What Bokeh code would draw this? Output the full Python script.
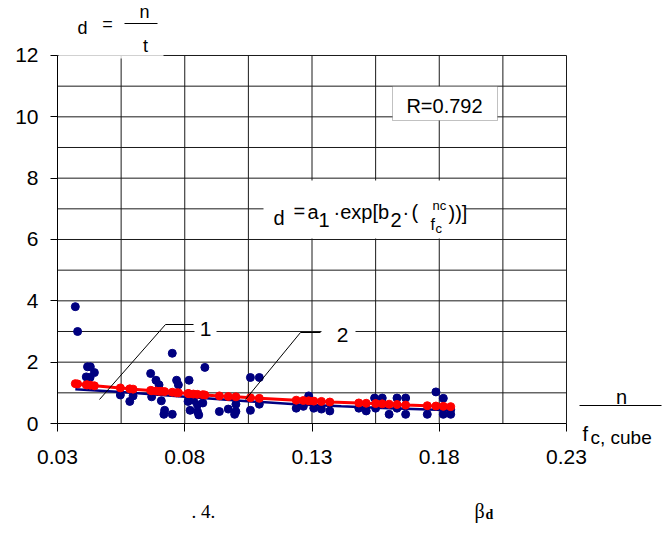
from bokeh.plotting import figure
from bokeh.models import FixedTicker, Label, BoxAnnotation
from bokeh.embed import file_html
from bokeh.resources import INLINE

# ---------------- data ----------------
blue_x = [0.0370, 0.0379, 0.0418, 0.0429, 0.0445, 0.0413, 0.0428, 0.0547, 0.0584, 0.0597,
          0.0666, 0.0687, 0.0699, 0.0670, 0.0708, 0.0721, 0.0751, 0.0718, 0.0751, 0.0768,
          0.0775, 0.0817, 0.0813, 0.0821, 0.0834, 0.0850, 0.0850, 0.0871, 0.0879, 0.0855,
          0.0936, 0.0971, 0.1001, 0.1001, 0.0996, 0.1058, 0.1093, 0.1058, 0.1093, 0.1238,
          0.1266, 0.1287, 0.1307, 0.1337, 0.1370, 0.1484, 0.1513, 0.1546, 0.1576, 0.1550,
          0.1603, 0.1634, 0.1668, 0.1634, 0.1668, 0.1753, 0.1787, 0.1816, 0.1816, 0.1845,
          0.1816, 0.1845]
blue_y = [3.81, 3.00, 1.85, 1.85, 1.66, 1.52, 1.50, 0.93, 0.72, 0.90,
          1.63, 1.41, 1.26, 0.87, 0.74, 0.43, 0.30, 0.30, 2.29, 1.41,
          1.26, 1.41, 0.72, 0.43, 0.76, 0.39, 0.61, 0.67, 1.83, 0.28,
          0.39, 0.47, 0.39, 0.63, 0.30, 1.50, 1.50, 0.43, 0.63, 0.50,
          0.56, 0.90, 0.50, 0.47, 0.41, 0.50, 0.41, 0.83, 0.83, 0.50,
          0.30, 0.83, 0.83, 0.50, 0.30, 0.30, 1.03, 0.82, 0.30, 0.30,
          0.50, 0.45]

red_x = [0.0370, 0.0379, 0.0413, 0.0418, 0.0429, 0.0445, 0.0547, 0.0584, 0.0597, 0.0666,
         0.0670, 0.0687, 0.0699, 0.0708, 0.0721, 0.0751, 0.0768, 0.0775, 0.0813, 0.0817,
         0.0834, 0.0850, 0.0871, 0.0879, 0.0936, 0.0971, 0.1001, 0.1058, 0.1093, 0.1238,
         0.1266, 0.1287, 0.1307, 0.1337, 0.1370, 0.1484, 0.1513, 0.1550, 0.1576, 0.1603,
         0.1634, 0.1668, 0.1753, 0.1787, 0.1816, 0.1845]
red_y = [1.30, 1.29, 1.26, 1.26, 1.25, 1.23, 1.16, 1.13, 1.12, 1.08,
         1.07, 1.06, 1.05, 1.05, 1.04, 1.02, 1.00, 1.00, 0.98, 0.97,
         0.96, 0.95, 0.94, 0.93, 0.90, 0.88, 0.87, 0.84, 0.82, 0.76,
         0.75, 0.74, 0.73, 0.72, 0.70, 0.67, 0.66, 0.65, 0.64, 0.63,
         0.62, 0.60, 0.58, 0.57, 0.56, 0.55]

fit2_x = [0.037, 0.055, 0.080, 0.106, 0.125, 0.1415, 0.160, 0.185]
fit2_y = [1.12, 1.03, 0.87, 0.72, 0.62, 0.56, 0.50, 0.43]

x_ticks = [0.03, 0.08, 0.13, 0.18, 0.23]
x_tick_labels = ["0.03", "0.08", "0.13", "0.18", "0.23"]
x_grid = [0.055, 0.08, 0.105, 0.13, 0.155, 0.18, 0.205, 0.23]
y_ticks = [0, 2, 4, 6, 8, 10, 12]
y_grid = [1, 2, 3, 4, 5, 6, 7, 8, 9, 10, 11, 12]
X_MIN, X_MAX, Y_MIN, Y_MAX = 0.03, 0.23, 0, 12

# ---------------- layout (pixel -> data, for placing annotations) ----------------
W, H = 672, 533
XP0, XP1 = 57.0, 566.0      # pixel columns of x = 0.03 and x = 0.23
YP0, YPU = 423.0, 30.667    # pixel row of y = 0, pixels per y unit


def X(px):
    return X_MIN + (px - XP0) * (X_MAX - X_MIN) / (XP1 - XP0)


def Y(py):
    return (YP0 - py) / YPU


SANS = "Liberation Sans"
SERIF = "Liberation Serif"

p = figure(width=W, height=H, x_range=(X(0), X(W)), y_range=(Y(H), Y(0)),
           output_backend="svg", toolbar_location=None, min_border=0)
p.title.visible = False
p.background_fill_color = "white"
p.border_fill_color = "white"
p.outline_line_color = None
p.xgrid.visible = False
p.ygrid.visible = False

# axes placed at the chart box edges
p.xaxis.fixed_location = Y_MIN
p.yaxis.fixed_location = X_MIN
p.xaxis.bounds = (X_MIN, X_MAX)
p.yaxis.bounds = (Y_MIN, Y_MAX)
p.xaxis.ticker = FixedTicker(ticks=x_ticks)
p.xaxis.major_label_overrides = {t: l for t, l in zip(x_ticks, x_tick_labels)}
p.yaxis.ticker = FixedTicker(ticks=y_ticks)
for ax in (p.xaxis[0], p.yaxis[0]):
    ax.axis_line_color = "black"
    ax.major_tick_line_color = "black"
    ax.minor_tick_line_color = None
    ax.major_tick_in = 0
    ax.major_label_text_font = SANS
    ax.major_label_text_font_size = "21px"
    ax.major_label_text_color = "black"
p.xaxis.major_tick_out = 8
p.xaxis.major_label_standoff = 18
p.yaxis.major_tick_out = 7
p.yaxis.major_label_standoff = 12

# grid lines (incl. top and right border of the box)
p.segment(x0=x_grid, y0=[Y_MIN] * len(x_grid), x1=x_grid, y1=[Y_MAX] * len(x_grid),
          line_color="#1a1a1a", line_width=1)
p.segment(x0=[X_MIN] * len(y_grid), y0=y_grid, x1=[X_MAX] * len(y_grid), y1=y_grid,
          line_color="#1a1a1a", line_width=1)

# data
p.scatter(blue_x, blue_y, size=8, color="#000080", line_color="#000080")
p.line(fit2_x, fit2_y, line_color="#000080", line_width=2.5)
p.line(red_x, red_y, line_color="#ff0000", line_width=3)
p.scatter(red_x, red_y, size=8, color="#ff0000", line_color="#ff0000")

# leaders for 1 and 2
p.line([X(99), X(165), X(193)], [Y(399), Y(324), Y(324)], line_color="black", line_width=1)
p.line([X(245), X(300), X(320)], [Y(399), Y(332), Y(332)], line_color="black", line_width=1)


def label(px, py, text, size="20px", align="left", font=SANS, style="normal"):
    p.add_layout(Label(x=X(px), y=Y(py), text=text, text_font=font, text_font_size=size,
                       text_font_style=style, text_baseline="middle", text_align=align,
                       text_color="black"))


def box(l, r, t, b, alpha=1.0, line=None):
    p.add_layout(BoxAnnotation(left=X(l), right=X(r), top=Y(t), bottom=Y(b),
                               fill_color="white", fill_alpha=alpha, line_color=line, line_width=1))


# equation box
box(263, 465, 180, 238)
for t, px, py, fs in [
    ("d", 273, 217, "20px"), ("=", 293, 210, "20px"), ("a", 307, 211, "20px"),
    ("1", 318, 219, "20px"), ("\u00b7exp[b", 333, 211, "20px"), ("2", 390, 219, "20px"),
    ("\u00b7", 402, 211, "20px"), ("(", 411, 211, "20px"),
    ("nc", 432, 205, "13px"), ("f", 430, 224, "16px"), ("c", 435, 228, "13px"),
    ("))]", 448, 212, "20px"),
]:
    label(px, py, t, size=fs)

# R box
box(392, 497, 86, 120, line="#333333")
label(444, 105, "R=0.792", align="center")

# labels 1 and 2
box(194, 216, 318, 340)
box(321, 355, 322, 345)
label(205, 328, "1", size="21px", align="center")
label(342, 334, "2", size="21px", align="center")

# top-left y label: d = n / t
box(58, 163, 30, 58, alpha=0.8)
label(82, 27, "d", size="18px", align="center")
label(107, 23, "=", size="18px", align="center")
label(144, 11, "n", size="18px", align="center")
label(145, 45, "t", size="18px", align="center")

# right x label: n / f_c, cube
label(621, 396, "n", align="center")
label(582, 433, "f")
label(590, 437, "c, cube", size="19px")

# caption
label(191, 511, ". 4.", size="19px", font=SERIF)
label(474, 510, "\u03b2", size="20px", font=SERIF)
label(485, 514, "d", size="14px", font=SERIF, style="bold")

# fraction bars (outside and inside the chart box)
p.line([X(421), X(448)], [Y(210), Y(210)], line_color="black", line_width=1)
p.line([X(124), X(157)], [Y(23), Y(23)], line_color="black", line_width=1)
p.line([X(579), X(661)], [Y(405), Y(405)], line_color="black", line_width=1)

open("out.html", "w").write(file_html(p, INLINE))
